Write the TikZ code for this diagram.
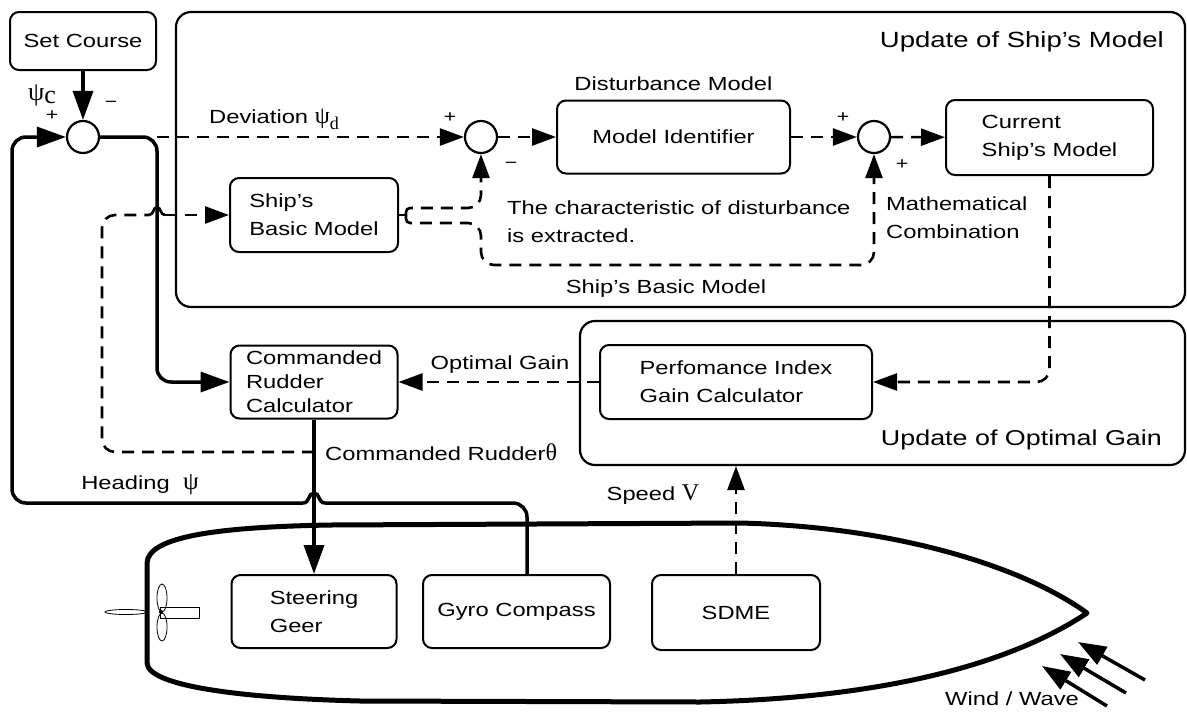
\documentclass[tikz,border=0pt]{standalone}
\usepackage{fontspec}
\setmainfont[FakeStretch=1.25]{Liberation Sans}
\newfontfamily\grk{Liberation Serif}
\usepackage{tikz}
\usetikzlibrary{arrows.meta,positioning}

\begin{document}
\begin{tikzpicture}[x=1pt,y=-1pt,
  font=\fontsize{19}{28}\selectfont,
  box/.style={rectangle,rounded corners=9pt,draw,line width=2pt,align=left,inner sep=0pt},
  sum/.style={circle,draw,line width=2.2pt,minimum size=32pt,inner sep=0pt,fill=white},
  frame/.style={rounded corners=15pt,draw,line width=2.2pt},
  sig/.style={line width=3.5pt,-{Triangle[length=29pt,width=20pt]}},
  wire/.style={line width=3.5pt},
  dsig/.style={line width=2.6pt,dash pattern=on 12pt off 8pt,-{Triangle[length=24pt,width=17pt]}},
  dwire/.style={line width=2.6pt,dash pattern=on 12pt off 8pt},
  sgn/.style={font=\fontsize{17}{17}\selectfont,inner sep=0pt},
  lbl/.style={inner sep=0pt},
  hull/.style={line width=5pt,line join=round},
  wind/.style={line width=3.5pt,-{Triangle[length=28pt,width=20pt]}}]
\useasboundingbox (0,0) rectangle (1187,716);

% the two update blocks
\draw[frame] (176,12) rectangle (1185,307);
\draw[frame] (580,321) rectangle (1185,465);
\node[lbl,anchor=east,font=\fontsize{22}{26}\selectfont] (ttl1) at (1164,42) {Update of Ship’s Model};
\node[lbl,anchor=east,font=\fontsize{21.5}{26}\selectfont] (ttl2) at (1162,440) {Update of Optimal Gain};

% blocks
\node[box,minimum width=146pt,minimum height=58pt] (course) at (83,41) {Set Course};
\node[box,minimum width=168pt,minimum height=74pt] (basic) at (314,215) {Ship’s\\Basic Model};
\node[box,minimum width=233pt,minimum height=73pt] (ident) at (673.5,137) {Model Identifier};
\node[box,minimum width=207pt,minimum height=75pt] (current) at (1049.5,137.5) {Current\\Ship’s Model};
\node[box,minimum width=167pt,minimum height=73pt,font=\fontsize{19}{24}\selectfont] (rudcalc) at (314,382) {Commanded\\Rudder\\Calculator};
\node[box,minimum width=272pt,minimum height=74pt] (perf) at (736,382) {Perfomance Index\\Gain Calculator};
\node[box,minimum width=165pt,minimum height=73pt] (steer) at (314,611.5) {Steering\\Geer};
\node[box,minimum width=187pt,minimum height=73pt] (gyro) at (516.5,611.5) {Gyro Compass};
\node[box,minimum width=168pt,minimum height=75pt] (sdme) at (736,612.5) {SDME};

\node[sum] (s1) at (83,137) {};
\node[sum] (s2) at (481,137) {};
\node[sum] (s3) at (874,137) {};

\coordinate (split) at (157,137);
\coordinate (fork) at (406,215);
\coordinate (tap) at (314,452);
\coordinate (gbot) at (736,466);
\coordinate (hopA) at (325,503);
\coordinate (hopB) at (303,503);
\coordinate (hopC) at (149,215);
\coordinate (hopD) at (165,215);

% solid signals
\draw[sig] (course) -- (s1);
\draw[sig,rounded corners=14pt] (s1) -- (split) |- (rudcalc.west);
\draw[sig] (rudcalc.south) -- (rudcalc.south |- steer.north);
\draw[wire,rounded corners=14pt] ([xshift=10.5pt]gyro.north) |- (hopA);
\draw[wire] (hopA) .. controls (318,503) and (320,493) .. (314,493) .. controls (308,493) and (310,503) .. (hopB);
\draw[sig,rounded corners=14pt] (hopB) -- (12,503) |- (s1.west);

% model update loop
\draw[dsig] (split) -- (s2);
\draw[dsig] (s2) -- (ident);
\draw[dsig] (ident) -- (s3);
\draw[dsig] (s3) -- (current);
\draw[dwire] (basic.east) -- (fork);
\draw[dsig,rounded corners=4pt] (fork) |- (418,208) [rounded corners=13pt] -| (s2.south);
\draw[dsig,rounded corners=4pt] (fork) |- (418,223) [rounded corners=13pt] -| (481,265) -| (s3.south);
\draw[dsig,rounded corners=13pt] (current.south) |- (perf.east);
\draw[dsig] (perf) -- (rudcalc);
\draw[dwire,rounded corners=13pt] (tap) -| (102,215) -- (hopC);
\draw[line width=2.6pt] (hopC) .. controls (154,215) and (153,207) .. (157,207) .. controls (161,207) and (160,215) .. (hopD);
\draw[dsig] (hopD) -- (basic.west);
\draw[dsig] (sdme) -- (gbot);

% signs and labels
\node[lbl] (psic) at (42,95) {\grk\fontsize{26}{26}\selectfont ψ\raisebox{-3pt}{c}};
\node[sgn] (p1) at (52,116) {+};
\node[sgn] (m1) at (111,104) {−};
\node[sgn] (p2) at (450,118) {+};
\node[sgn] (m2) at (511,165) {−};
\node[sgn] (p3) at (843,118) {+};
\node[sgn] (p4) at (902,165) {+};
\node[lbl,anchor=west] (dev) at (209,119) {Deviation {\grk\fontsize{24}{24}\selectfont ψ\raisebox{-6pt}{\fontsize{18}{18}\selectfont d}}};
\node[lbl,above=9pt of ident] (dist) {Disturbance Model};
\node[lbl,anchor=west,align=left] (extr) at (507,222) {The characteristic of disturbance\\is extracted.};
\node[lbl] (bml) at (666,289) {Ship’s Basic Model};
\node[lbl,anchor=west,align=left] (math) at (886,218) {Mathematical\\Combination};
\node[lbl] (og) at (500,365) {Optimal Gain};
\node[lbl,anchor=west] (cr) at (325,452) {Commanded Rudder{\grk\fontsize{24}{24}\selectfont θ}};
\node[lbl] (head) at (140,485) {Heading \ {\grk\fontsize{25}{25}\selectfont ψ}};
\node[lbl] (spd) at (653,495) {Speed {\grk\fontsize{24}{24}\selectfont V}};
\node[lbl] (wnd) at (1012,699) {Wind / Wave};

% hull
\draw[hull] (147,563) .. controls (148,536) and (220,527) .. (330,525) -- (740,523)
  .. controls (900,527) and (1025,568) .. (1087,613)
  .. controls (1020,658) and (900,698) .. (700,702) -- (360,701)
  .. controls (240,698) and (148,686) .. (147,663) -- cycle;

% propeller and rudder
\draw[line width=0.8pt] (126,612) ellipse[x radius=21,y radius=2.5];
\draw[line width=0.8pt] (162,598) ellipse[x radius=5,y radius=14];
\draw[line width=0.8pt] (162,627) ellipse[x radius=5,y radius=14];
\draw[line width=0.8pt] (160,607) rectangle (199,618);
\fill (161,612) circle[radius=2];

% wind / wave
\draw[wind] (1145,680) -- (1078,642);
\draw[wind] (1126,693) -- (1060,654);
\draw[wind] (1107,706) -- (1042,666);
\end{tikzpicture}
\end{document}
